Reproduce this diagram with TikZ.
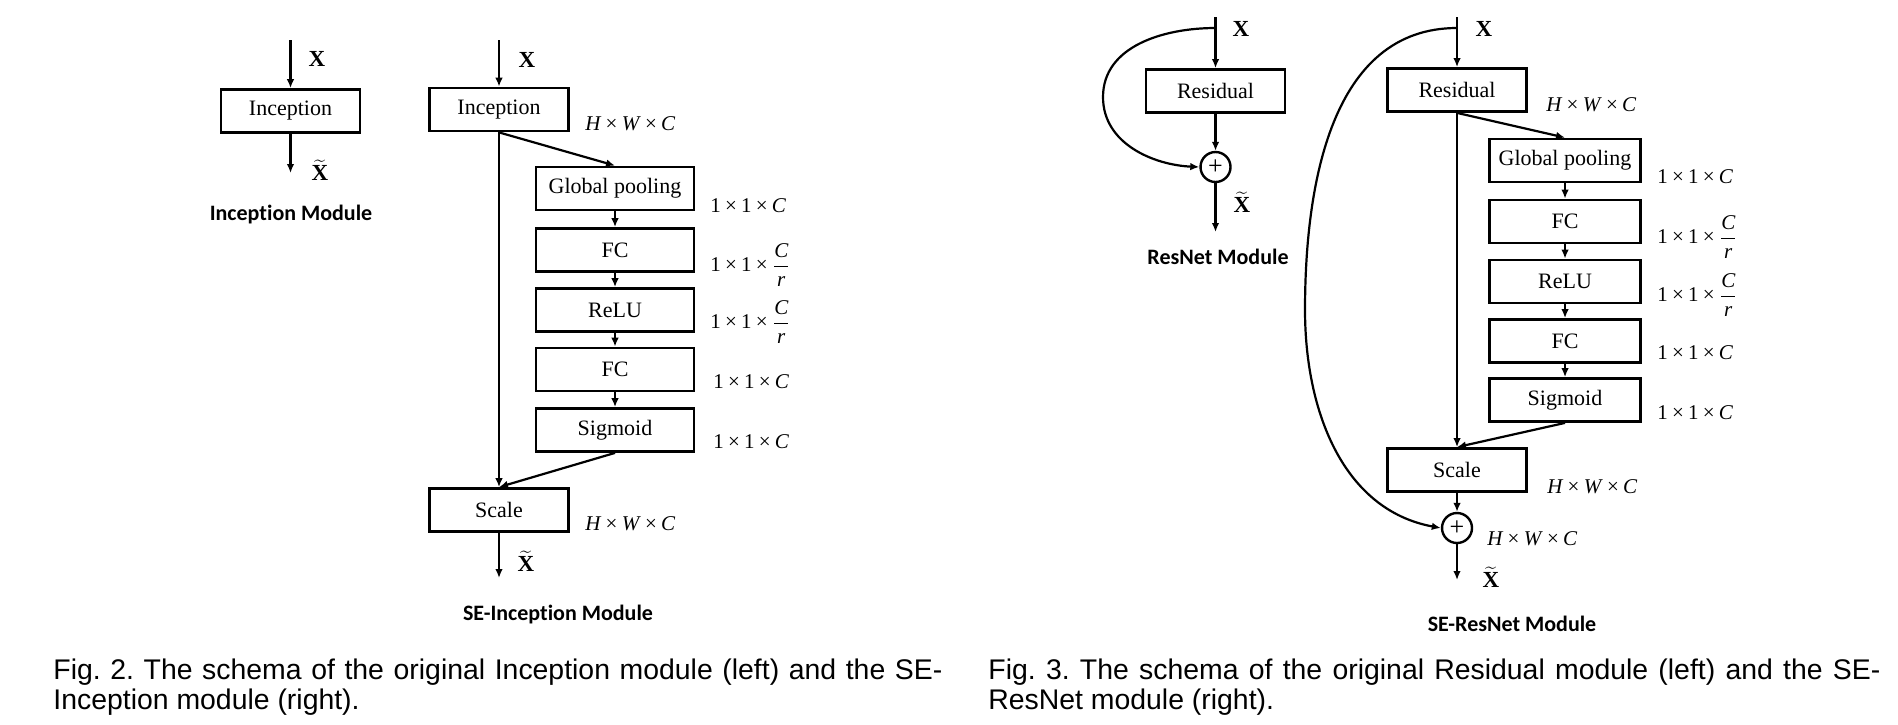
\documentclass[tikz,border=0pt]{standalone}
\usepackage{fontspec}
\setmainfont{Liberation Serif}
\newfontfamily\capfont{Liberation Sans}
\newfontfamily\modfont[Ligatures=NoCommon]{Carlito}
\usetikzlibrary{arrows.meta}
\frenchspacing

\newcommand{\tm}{\hspace{0.2em}×\hspace{0.2em}}
\newcommand{\hwc}{\textit{H}\tm\textit{W}\tm\textit{C}}
\newcommand{\oneC}{1\tm1\tm\textit{C}}
\newcommand{\oneCr}{1\tm1\tm${\displaystyle\frac{\textit{C}}{\textit{r}}}$}
\newcommand{\xin}{\textbf{X}}
\newcommand{\xout}{$\widetilde{\hbox{\bfseries X}}$}

\tikzset{
  blk/.style={draw, line width=1.4pt, inner sep=0pt, minimum width=69.5pt,
    minimum height=21.5pt, font=\fontsize{11}{13}\selectfont},
  seblk/.style={blk, minimum width=79pt},
  resblk/.style={blk, minimum width=75.5pt},
  flow/.style={-{Latex[length=4.5pt,width=3.8pt]}, line width=1.1pt},
  sym/.style={inner sep=0pt, font=\fontsize{11.5}{13}\selectfont},
  dimlbl/.style={anchor=west, inner sep=0pt, font=\fontsize{10.5}{12}\selectfont},
  modlbl/.style={inner sep=0pt, font=\modfont\fontsize{11}{13}\selectfont\bfseries},
  addop/.style={draw, circle, line width=1.2pt, minimum size=15pt, inner sep=0pt,
    font=\fontsize{13}{13}\selectfont},
  figcap/.style={anchor=west, inner sep=0pt, font=\capfont\fontsize{14.2}{17}\selectfont}
}

\begin{document}
\begin{tikzpicture}[x=0.5pt, y=-0.5pt]
\useasboundingbox (0,0) rectangle (1898,724);

% Inception module
\coordinate (incin) at (290.5,40);
\coordinate (incout) at (290.5,173);
\node[blk] (inc) at (290.5,111) {Inception};
\draw[flow] (incin) -- (inc);
\draw[flow] (inc) -- (incout);
\node[sym] (incx) at (317,59) {\xin};
\node[sym] (incxt) at (320,170) {\xout};
\node[modlbl] (inctitle) at (291,215) {Inception Module};

% SE-Inception module
\coordinate (seincin) at (499,40);
\coordinate (seincout) at (499,578);
\node[blk] (seinc) at (499,109.5) {Inception};
\node[seblk] (gpA) at (615,188.5) {Global pooling};
\node[seblk] (fcA) at (615,250) {FC};
\node[seblk] (reluA) at (615,310) {ReLU};
\node[seblk] (fcB) at (615,369.5) {FC};
\node[seblk] (sigA) at (615,430) {Sigmoid};
\node[blk] (scaleA) at (499,510) {Scale};
\draw[flow] (seincin) -- (seinc);
\draw[flow] (seinc) -- (scaleA);
\draw[flow] (seinc.south) -- (gpA.north);
\draw[flow] (gpA) -- (fcA);
\draw[flow] (fcA) -- (reluA);
\draw[flow] (reluA) -- (fcB);
\draw[flow] (fcB) -- (sigA);
\draw[flow] (sigA.south) -- (scaleA.north);
\draw[flow] (scaleA) -- (seincout);
\node[sym] (seincx) at (527,60) {\xin};
\node[sym] (seincxt) at (526,561) {\xout};
\node[dimlbl] (dA0) at (585,124) {\hwc};
\node[dimlbl] (dA1) at (710,206) {\oneC};
\node[dimlbl] (dA2) at (710,265) {\oneCr};
\node[dimlbl] (dA3) at (710,322) {\oneCr};
\node[dimlbl] (dA4) at (713,382) {\oneC};
\node[dimlbl] (dA5) at (713,442) {\oneC};
\node[dimlbl] (dA6) at (585,524) {\hwc};
\node[modlbl] (seinctitle) at (558,614) {SE-Inception Module};

% ResNet module
\coordinate (resAin) at (1215.5,17);
\coordinate (resAsplit) at (1215.5,28);
\coordinate (resAout) at (1215.5,232);
\node[blk] (resA) at (1215.5,91) {Residual};
\node[addop] (plusA) at (1215.5,167) {+};
\draw[flow] (resAin) -- (resA);
\draw[flow] (resA) -- (plusA);
\draw[flow] (plusA) -- (resAout);
\draw[flow] (resAsplit) .. controls (1164,28) and (1103,46) .. (1103,97)
  .. controls (1103,144) and (1154,165) .. (plusA.west);
\node[sym] (resAx) at (1241,29) {\xin};
\node[sym] (resAxt) at (1242,202) {\xout};
\node[modlbl] (resAtitle) at (1218,257) {ResNet Module};

% SE-ResNet module
\coordinate (resBin) at (1457,17);
\coordinate (resBsplit) at (1457,28);
\coordinate (resBout) at (1457,580);
\node[blk] (resB) at (1457,90) {Residual};
\node[resblk] (gpB) at (1565,160.5) {Global pooling};
\node[resblk] (fcC) at (1565,221.5) {FC};
\node[resblk] (reluB) at (1565,281.5) {ReLU};
\node[resblk] (fcD) at (1565,341) {FC};
\node[resblk] (sigB) at (1565,400) {Sigmoid};
\node[blk] (scaleB) at (1457,470) {Scale};
\node[addop] (plusB) at (1457,528) {+};
\draw[flow] (resBin) -- (resB);
\draw[flow] (resB) -- (scaleB);
\draw[flow] (resB.south) -- (gpB.north);
\draw[flow] (gpB) -- (fcC);
\draw[flow] (fcC) -- (reluB);
\draw[flow] (reluB) -- (fcD);
\draw[flow] (fcD) -- (sigB);
\draw[flow] (sigB.south) -- (scaleB.north);
\draw[flow] (scaleB) -- (plusB);
\draw[flow] (plusB) -- (resBout);
\draw[flow] (resBsplit) .. controls (1331,28) and (1305,185) .. (1305,310)
  .. controls (1305,411) and (1343,510) .. (plusB.west);
\node[sym] (resBx) at (1484,29) {\xin};
\node[sym] (resBxt) at (1491,577) {\xout};
\node[dimlbl] (dB0) at (1546,105) {\hwc};
\node[dimlbl] (dB1) at (1657,177) {\oneC};
\node[dimlbl] (dB2) at (1657,237) {\oneCr};
\node[dimlbl] (dB3) at (1657,295) {\oneCr};
\node[dimlbl] (dB4) at (1657,353) {\oneC};
\node[dimlbl] (dB5) at (1657,413) {\oneC};
\node[dimlbl] (dB6) at (1547,487) {\hwc};
\node[dimlbl] (dB7) at (1487,539) {\hwc};
\node[modlbl] (resBtitle) at (1512,624) {SE-ResNet Module};

% Captions
\node[figcap] (capA1) at (53,672) {\makebox[444.5pt][s]{Fig. 2. The schema of the original Inception module (left) and the SE-}};
\node[figcap] (capA2) at (53,702) {Inception module (right).};
\node[figcap] (capB1) at (988,672) {\makebox[446pt][s]{Fig. 3. The schema of the original Residual module (left) and the SE-}};
\node[figcap] (capB2) at (988,702) {ResNet module (right).};
\end{tikzpicture}
\end{document}
